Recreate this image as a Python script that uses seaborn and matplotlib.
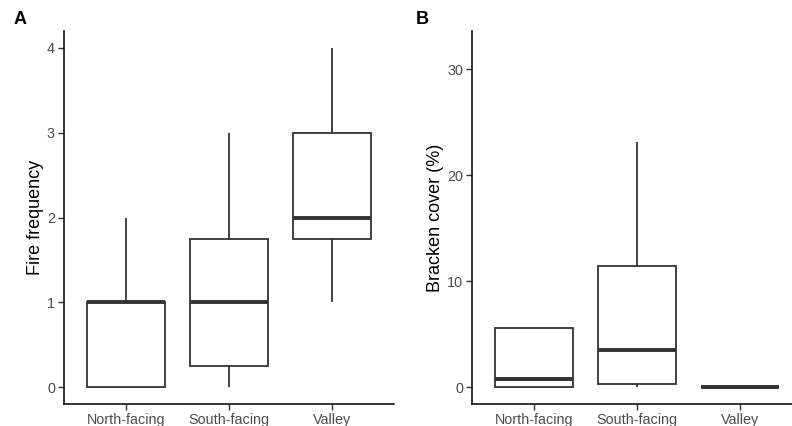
import matplotlib
matplotlib.use("Agg")
import matplotlib.pyplot as plt
import seaborn as sns
import pandas as pd

categories = ["North-facing", "South-facing", "Valley"]

# Panel A: fire frequency samples per aspect
fire_north = [0, 0, 0, 1, 1, 1, 1, 2]
fire_south = [0, 0, 1, 1, 2, 3]
fire_valley = [1, 1, 2, 2, 2, 3, 3, 4]

# Panel B: bracken cover (%) samples per aspect
bracken_north = [0, 0, 0.8, 5.6, 5.6]
bracken_south = [0, 0.25, 3.5, 11.4, 23.1]
bracken_valley = [0, 0, 0, 0, 0]

yticks_a = [0, 1, 2, 3, 4]
yticks_b = [0, 10, 20, 30]


def make_df(a, b, c):
    rows = []
    for cat, vals in zip(categories, [a, b, c]):
        rows += [(cat, v) for v in vals]
    return pd.DataFrame(rows, columns=["aspect", "value"])


df_a = make_df(fire_north, fire_south, fire_valley)
df_b = make_df(bracken_north, bracken_south, bracken_valley)

sns.set_theme(style="ticks")
plt.rcParams["font.family"] = ["Liberation Sans", "DejaVu Sans"]

W, H = 792, 426
fig = plt.figure(figsize=(W / 100, H / 100), dpi=100)

edge = "#333333"


def panel(rect, df, ylim, yticks, ylabel, letter, letter_xy):
    ax = fig.add_axes(rect)
    sns.boxplot(data=df, x="aspect", y="value", order=categories, ax=ax,
                color="white", linecolor=edge, linewidth=1.3, width=0.75,
                showcaps=False, showfliers=False, whis=1.5,
                medianprops=dict(linewidth=2.8, color=edge))
    ax.set_xlim(-0.6, 2.6)
    ax.set_ylim(*ylim)
    ax.set_yticks(yticks)
    ax.set_xlabel("")
    ax.set_ylabel(ylabel, fontsize=13, color="black", labelpad=2)
    for s in ["top", "right"]:
        ax.spines[s].set_visible(False)
    for s in ["left", "bottom"]:
        ax.spines[s].set_color("black")
        ax.spines[s].set_linewidth(1.1)
    ax.tick_params(axis="both", direction="out", length=4, width=1.0,
                   color=edge, labelcolor="#4D4D4D", labelsize=10.4, pad=2.5)
    fig.text(letter_xy[0] / W, 1 - letter_xy[1] / H, letter, fontsize=13,
             fontweight="bold", ha="left", va="center", color="black")
    return ax


def rect(x0, y0, x1, y1):
    return [x0 / W, 1 - y1 / H, (x1 - x0) / W, (y1 - y0) / H]


panel(rect(64, 31, 394, 404), df_a, (-0.2, 4.2), yticks_a,
      "Fire frequency", "A", (14, 20))
panel(rect(472, 31, 802, 404), df_b, (-1.6, 33.6), yticks_b,
      "Bracken cover (%)", "B", (416, 20))

fig.savefig("out.png", dpi=100)
